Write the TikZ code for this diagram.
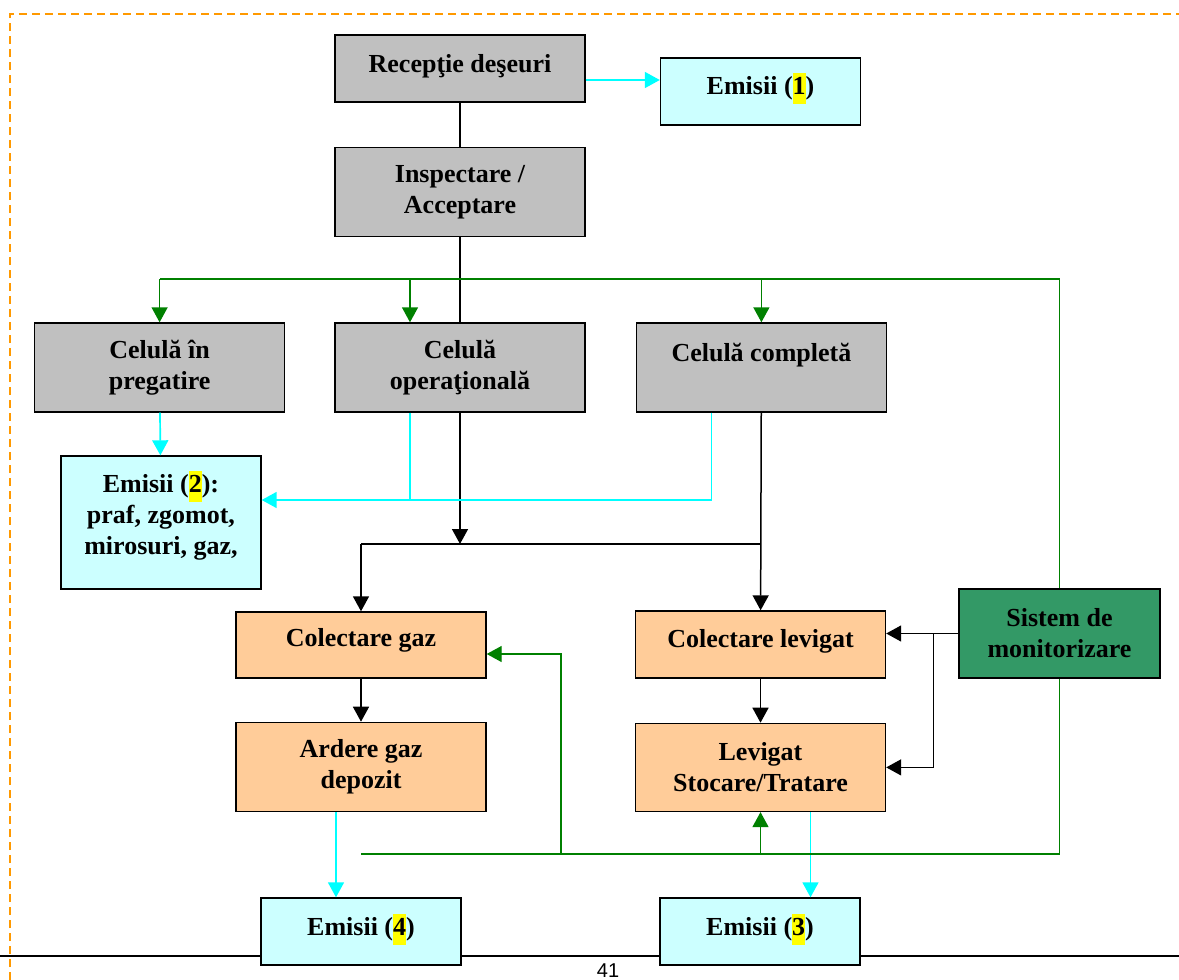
\documentclass[tikz,border=0pt]{standalone}
\usepackage{fontspec}
\setmainfont{Liberation Serif}
\newfontfamily\pagefont{Liberation Sans}
\usetikzlibrary{arrows.meta,positioning}
\definecolor{boxgrey}{HTML}{C0C0C0}
\definecolor{emiscyan}{HTML}{CCFFFF}
\definecolor{procorange}{HTML}{FFCC99}
\definecolor{monitgreen}{HTML}{339966}
\definecolor{linegreen}{HTML}{008000}
\definecolor{linecyan}{HTML}{00FFFF}
\definecolor{frameorange}{HTML}{FF9900}
\definecolor{hlyellow}{HTML}{FFFF00}
\newcommand{\hlnum}[1]{{\setlength{\fboxsep}{0pt}\colorbox{hlyellow}{\strut#1}}}

\begin{document}
\begin{tikzpicture}[x=1pt,y=-1pt,>={Triangle[length=15pt,width=16pt]}]
	\tikzstyle{rect}=[draw, rectangle, line width=1.4pt, align=center, inner sep=2pt, font=\bfseries\fontsize{26}{31}\selectfont]
	\tikzstyle{proc}=[rect, fill=boxgrey, minimum width=250pt, minimum height=89pt]
	\tikzstyle{emis}=[rect, fill=emiscyan, minimum width=200pt, minimum height=67pt]
	\tikzstyle{treat}=[rect, fill=procorange, minimum width=250pt, minimum height=89pt]
	\tikzstyle{monit}=[rect, fill=monitgreen, minimum width=201pt, minimum height=89pt]
	\tikzstyle{blk}=[line width=1.5pt]
	\tikzstyle{cyn}=[line width=1.7pt, linecyan]
	\tikzstyle{grn}=[line width=1.4pt, linegreen]

	\useasboundingbox (0,0) rectangle (1179,980);
	\clip (0,0) rectangle (1179,980);

	% page frame and rule
	\draw[frameorange, line width=1.5pt, dash pattern=on 8pt off 5pt] (10,980) -- (10,14) -- (1179,14);
	\draw[line width=1.5pt] (0,956) -- (1179,956);
	\node[font=\pagefont\fontsize{20}{24}\selectfont, anchor=base] (pg) at (608,977) {41};

	% boxes
	\node[proc] (recep) at (460,68.5) [minimum height=67pt, text depth=10pt] {Recepţie deşeuri};
	\node[emis] (em1) at (760.5,91.5) [text depth=15pt] {Emisii (\hlnum{1})};
	\node[proc] (insp) [below=44pt of recep] {Inspectare /\\Acceptare};
	\node[proc] (oper) at (460,367.5) {Celulă\\operaţională};
	\node[proc] (preg) [left=49pt of oper] {Celulă în\\pregatire};
	\node[proc] (compl) [right=50pt of oper, text depth=31pt] {Celulă completă};
	\node[emis] (em2) at (161,522.5) [minimum height=133pt, text depth=20pt] {Emisii (\hlnum{2}):\\praf, zgomot,\\mirosuri, gaz,};
	\node[treat] (colgaz) at (361,645) [minimum height=66pt, text depth=15pt] {Colectare gaz};
	\node[treat] (colev) at (760.5,644.5) [minimum height=67pt, text depth=12pt] {Colectare levigat};
	\node[monit] (sis) at (1059.5,633.5) {Sistem de\\monitorizare};
	\node[treat] (ardere) [below=43pt of colgaz] {Ardere gaz\\depozit};
	\node[treat] (levst) [below=44pt of colev, minimum height=88pt] {Levigat\\Stocare/Tratare};
	\node[emis] (em4) at (361,931.5) [text depth=14pt] {Emisii (\hlnum{4})};
	\node[emis] (em3) at (760,931.5) [text depth=14pt] {Emisii (\hlnum{3})};

	% main flow
	\draw[blk] (recep) -- (insp);
	\draw[blk] (insp) -- (oper);
	\coordinate (jl) at (360,544);
	\draw[blk,->] (oper.south) -- (oper.south |- jl);
	\draw[blk] (colgaz.north |- jl) -- (compl.south |- jl);
	\draw[blk,->] (colgaz.north |- jl) -- (colgaz.north);
	\draw[blk,->] (compl) -- (colev);
	\draw[blk,->] (colgaz) -- (ardere);
	\draw[blk,->] (colev) -- (levst);
	\draw[blk,->] (sis.west) -- (sis.west -| colev.east);
	\coordinate (br) at ([xshift=-25pt]sis.west);
	\draw[blk,->] (br) |- (levst.east);

	% emissions
	\coordinate (r1) at ([yshift=-11.5pt]recep.east);
	\draw[cyn,->] (r1) -- (r1 -| em1.west);
	\draw[cyn,->] (preg) -- (em2);
	\coordinate (e2) at ([yshift=22.5pt]em2.east);
	\coordinate (o1) at ([xshift=-50pt]oper.south);
	\coordinate (c1) at ([xshift=-50pt]compl.south);
	\draw[cyn] (o1) -- (o1 |- e2);
	\draw[cyn,->] (c1) |- (e2);
	\coordinate (a1) at ([xshift=-25pt]ardere.south);
	\draw[cyn,->] (a1) -- (a1 |- em4.north);
	\coordinate (l1) at ([xshift=50pt]levst.south);
	\draw[cyn,->] (l1) -- (l1 |- em3.north);

	% monitoring loops
	\coordinate (gt) at (sis.north |- 0,279);
	\draw[grn] (sis.north) -- (gt) -- (preg.north |- gt);
	\draw[grn,->] (preg.north |- gt) -- (preg.north);
	\coordinate (o2) at ([xshift=-50pt]oper.north);
	\draw[grn,->] (o2 |- gt) -- (o2);
	\draw[grn,->] (compl.north |- gt) -- (compl.north);
	\coordinate (gb) at (sis.south |- 0,854);
	\draw[grn] (sis.south) -- (gb) -- (colgaz.south |- gb);
	\draw[grn,->] (levst.south |- gb) -- (levst.south);
	\coordinate (g1) at (561,854);
	\draw[grn,->] (g1) |- ([yshift=-9pt]colgaz.east);
\end{tikzpicture}
\end{document}
